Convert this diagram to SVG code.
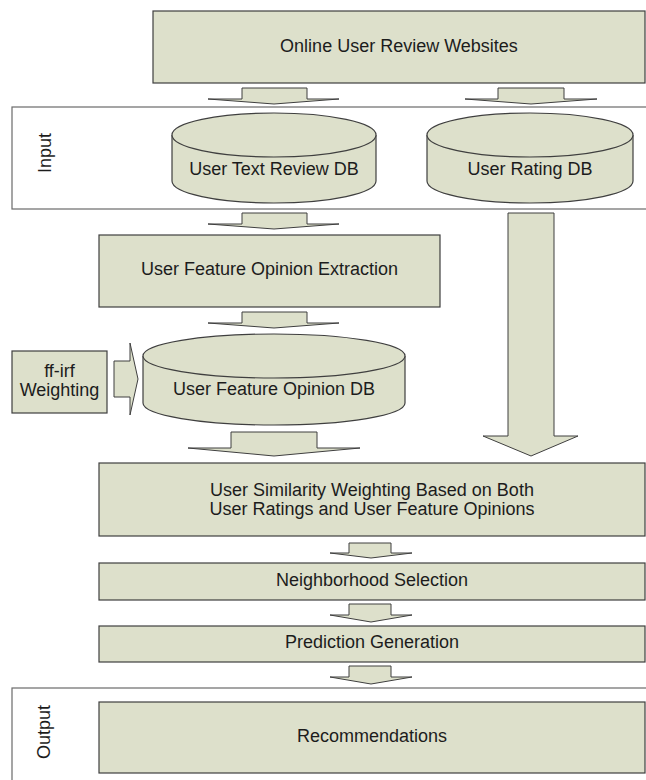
<svg xmlns="http://www.w3.org/2000/svg" width="646" height="780" viewBox="0 0 646 780">
  <style>
    .box { fill: #dde0cb; stroke: #3f3f3f; stroke-width: 1.2; }
    .band { fill: #ffffff; stroke: #6a6a6a; stroke-width: 1.2; }
    .arrow { fill: #dde0cb; stroke: #3f3f3f; stroke-width: 1; stroke-linejoin: miter; }
    .lbl { font-family: "Liberation Sans", Arial, sans-serif; font-size: 18px; fill: #1c1c1c; text-anchor: middle; }
  </style>
  <rect width="646" height="780" fill="#ffffff"/>

  <!-- swim bands -->
  <g id="input-band">
    <rect class="band" x="12" y="107" width="640" height="102"/>
    <text class="lbl" transform="translate(51,153) rotate(-90)">Input</text>
  </g>
  <g id="output-band">
    <rect class="band" x="12" y="688" width="640" height="100"/>
    <text class="lbl" transform="translate(50,732) rotate(-90)">Output</text>
  </g>

  <!-- process boxes and stores -->
  <g id="websites">
    <rect class="box" x="153" y="11" width="492" height="72"/>
    <text class="lbl" x="399" y="52">Online User Review Websites</text>
  </g>

  <g id="text-review-db">
    <path class="box" d="M172,135 L172,181 A102,22 0 0 0 376,181 L376,135"/>
    <ellipse class="box" cx="274" cy="135" rx="102" ry="22"/>
    <text class="lbl" x="274" y="175">User Text Review DB</text>
  </g>

  <g id="rating-db">
    <path class="box" d="M427,135 L427,181 A103,22 0 0 0 633,181 L633,135"/>
    <ellipse class="box" cx="530" cy="135" rx="103" ry="22"/>
    <text class="lbl" x="530" y="175">User Rating DB</text>
  </g>

  <g id="opinion-extraction">
    <rect class="box" x="99" y="235" width="341" height="72"/>
    <text class="lbl" x="269.5" y="275">User Feature Opinion Extraction</text>
  </g>

  <g id="ffirf-weighting">
    <rect class="box" x="12" y="351" width="95" height="62"/>
    <text class="lbl" x="59.5" y="377">ff-irf</text>
    <text class="lbl" x="59.5" y="396">Weighting</text>
  </g>

  <g id="opinion-db">
    <path class="box" d="M143,356 L143,403 A131,22 0 0 0 405,403 L405,356"/>
    <ellipse class="box" cx="274" cy="356" rx="131" ry="22"/>
    <text class="lbl" x="274" y="395">User Feature Opinion DB</text>
  </g>

  <g id="similarity-weighting">
    <rect class="box" x="99" y="463" width="546" height="73"/>
    <text class="lbl" x="372" y="496">User Similarity Weighting Based on Both</text>
    <text class="lbl" x="372" y="515">User Ratings and User Feature Opinions</text>
  </g>

  <g id="neighborhood-selection">
    <rect class="box" x="99" y="563" width="546" height="37"/>
    <text class="lbl" x="372" y="586">Neighborhood Selection</text>
  </g>

  <g id="prediction-generation">
    <rect class="box" x="99" y="626" width="546" height="36"/>
    <text class="lbl" x="372" y="648">Prediction Generation</text>
  </g>

  <g id="recommendations">
    <rect class="box" x="99" y="702" width="546" height="71"/>
    <text class="lbl" x="372" y="742">Recommendations</text>
  </g>

  <!-- block-arrow connectors -->
  <g id="connectors">
    <path class="arrow" d="M242,88 H307 V99 H339 L274,104 L208,99 H242 Z"/>
    <path class="arrow" d="M498,88 H564 V99 H597 L531,104 L465,99 H498 Z"/>
    <path class="arrow" d="M242,213 H307 V224 H339 L274,229 L208,224 H242 Z"/>
    <path class="arrow" d="M242,312 H307 V323 H339 L274,328 L208,323 H242 Z"/>
    <path class="arrow" d="M114,361 H130 V343 L138,379 L130,415 V397 H114 Z"/>
    <path class="arrow" d="M231,432 H317 V448 H360 L274,456 L188,448 H231 Z"/>
    <path class="arrow" d="M508,213 H554 V436 H578 L531,456 L483,436 H508 Z"/>
    <path class="arrow" d="M349,543 H391 V553 H412 L371,558 L330,553 H349 Z"/>
    <path class="arrow" d="M349,604 H391 V615 H412 L371,622 L330,615 H349 Z"/>
    <path class="arrow" d="M349,666 H391 V677 H412 L371,684 L330,677 H349 Z"/>
  </g>
</svg>
